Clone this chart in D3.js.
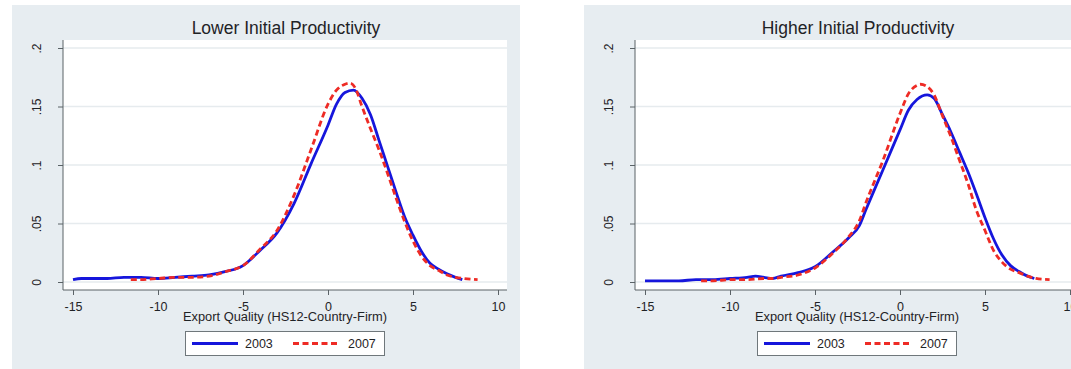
<!DOCTYPE html>
<html>
<head>
<meta charset="utf-8">
<script src="https://cdn.jsdelivr.net/npm/d3@7"></script>
<style>
  html, body { margin: 0; padding: 0; background: #ffffff; }
  svg { display: block; font-family: "Liberation Sans", Arial, Helvetica, sans-serif; }
</style>
</head>
<body>
<svg id="chart" width="1071" height="369"></svg>
<script>
// ---------- data ----------
const panelTitles = ["Lower Initial Productivity", "Higher Initial Productivity"];
const xAxisTitle = "Export Quality (HS12-Country-Firm)";
const seriesNames = ["2003", "2007"];
const xTicks = [-15, -10, -5, 0, 5, 10];
const xTickLabels = ["-15", "-10", "-5", "0", "5", "10"];
const yTicks = [0, 0.05, 0.1, 0.15, 0.2];
const yTickLabels = ["0", ".05", ".1", ".15", ".2"];

// Lower initial productivity
const lowX2003 = [-15,-14.5,-14,-13,-12,-11,-10,-9,-8,-7,-6,-5,-4,-3,-2,-1,0,0.5,1,1.5,2,2.5,3,3.5,4,4.5,5,5.5,6,6.5,7,7.5,7.9];
const lowY2003 = [0.002,0.003,0.003,0.003,0.004,0.004,0.003,0.004,0.005,0.006,0.009,0.014,0.027,0.042,0.067,0.101,0.134,0.152,0.162,0.164,0.157,0.143,0.121,0.099,0.077,0.056,0.040,0.026,0.016,0.011,0.007,0.004,0.002];
const lowX2007 = [-11.6,-11,-10,-9,-8,-7,-6,-5,-4,-3,-2,-1,0,0.5,1,1.3,1.6,2,2.5,3,3.5,4,4.5,5,5.5,6,6.5,7,7.5,8,8.8];
const lowY2007 = [0.002,0.002,0.003,0.004,0.004,0.005,0.009,0.014,0.028,0.044,0.074,0.113,0.152,0.164,0.169,0.170,0.166,0.150,0.131,0.113,0.093,0.072,0.052,0.035,0.022,0.014,0.010,0.006,0.004,0.003,0.002];

// Higher initial productivity
const highX2003 = [-15,-14,-13,-12,-11,-10,-9,-8.5,-8,-7.5,-7,-6,-5,-4,-3,-2.4,-2,-1,0,0.5,1,1.6,2,2.5,3,3.5,4,4.5,5,5.5,6,6.5,7,7.5,7.9];
const highY2003 = [0.001,0.001,0.001,0.002,0.002,0.003,0.004,0.005,0.004,0.003,0.005,0.008,0.013,0.025,0.038,0.048,0.062,0.096,0.130,0.147,0.156,0.160,0.157,0.143,0.128,0.111,0.094,0.075,0.055,0.037,0.023,0.014,0.009,0.005,0.003];
const highX2007 = [-11.7,-11,-10,-9,-8,-7.5,-7,-6,-5,-4,-3,-2.4,-2,-1,0,0.5,1,1.2,1.6,2,2.5,3,3.5,4,4.5,5,5.5,6,6.5,7,7.5,8,8.8];
const highY2007 = [0.001,0.001,0.002,0.002,0.003,0.003,0.004,0.006,0.012,0.024,0.039,0.052,0.068,0.104,0.144,0.161,0.168,0.169,0.167,0.160,0.142,0.124,0.104,0.084,0.061,0.044,0.027,0.017,0.011,0.008,0.005,0.003,0.002];

// ---------- style ----------
const BG = "#e7edf1";
const BLUE = "#1616dc";
const RED = "#ee2b25";
const AXIS = "#5a6266";
const TEXT = "#1f2326";
const GRID = "#e6ebee";

const svg = d3.select("#chart");

function zip(xs, ys) { return xs.map((x, i) => ({ x, y: ys[i] })); }

function drawPanel(ox, title, d2003, d2007) {
  const g = svg.append("g").attr("transform", `translate(${ox},0)`);

  // outer background
  g.append("rect").attr("x", 12).attr("y", 5).attr("width", 508).attr("height", 364).attr("fill", BG);

  // plot region
  const pl = 63, pr = 507, pt = 40, pb = 290;
  g.append("rect").attr("x", pl).attr("y", pt).attr("width", pr - pl).attr("height", pb - pt).attr("fill", "#ffffff");

  const x = d3.scaleLinear().domain([-15, 10]).range([73, 498]);
  const y = d3.scaleLinear().domain([0, 0.2]).range([282, 48]);

  // gridlines
  g.append("g").selectAll("line").data(yTicks).join("line")
    .attr("x1", pl).attr("x2", pr)
    .attr("y1", d => y(d)).attr("y2", d => y(d))
    .attr("stroke", GRID).attr("stroke-width", 1.4);

  // y axis
  const yAxis = d3.axisLeft(y).tickValues(yTicks).tickSize(5).tickSizeOuter(0)
    .tickFormat((d, i) => yTickLabels[i]);
  const ya = g.append("g").attr("transform", `translate(${pl},0)`).call(yAxis);
  ya.select(".domain").remove();
  ya.selectAll(".tick line").attr("stroke", AXIS);
  ya.selectAll(".tick text")
    .attr("x", null).attr("dy", null)
    .attr("transform", "translate(-22,0) rotate(-90)")
    .attr("text-anchor", "middle")
    .attr("font-size", 12).attr("fill", TEXT);
  g.append("line").attr("x1", pl).attr("x2", pl).attr("y1", pt).attr("y2", pb)
    .attr("stroke", AXIS).attr("stroke-width", 1);

  // x axis
  const xAxis = d3.axisBottom(x).tickValues(xTicks).tickSize(5).tickSizeOuter(0).tickPadding(7)
    .tickFormat((d, i) => xTickLabels[i]);
  const xa = g.append("g").attr("transform", `translate(0,${pb})`).call(xAxis);
  xa.select(".domain").remove();
  xa.selectAll(".tick line").attr("stroke", AXIS);
  xa.selectAll(".tick text").attr("font-size", 12.5).attr("fill", TEXT);
  g.append("line").attr("x1", pl).attr("x2", pr).attr("y1", pb).attr("y2", pb)
    .attr("stroke", AXIS).attr("stroke-width", 1);

  // curves
  const line = d3.line().x(d => x(d.x)).y(d => y(d.y)).curve(d3.curveMonotoneX);
  g.append("path").datum(d2003).attr("d", line)
    .attr("fill", "none").attr("stroke", BLUE).attr("stroke-width", 2.8)
    .attr("stroke-linejoin", "round");
  g.append("path").datum(d2007).attr("d", line)
    .attr("fill", "none").attr("stroke", RED).attr("stroke-width", 2.8)
    .attr("stroke-dasharray", "6,3.5");

  // title
  g.append("text").attr("x", 286).attr("y", 34).attr("text-anchor", "middle")
    .attr("font-size", 17.5).attr("fill", TEXT).text(title);

  // x axis title
  g.append("text").attr("x", 285).attr("y", 321).attr("text-anchor", "middle")
    .attr("font-size", 12.5).attr("textLength", 204).attr("lengthAdjust", "spacingAndGlyphs")
    .attr("fill", TEXT).text(xAxisTitle);

  // legend
  const lg = g.append("g");
  lg.append("rect").attr("x", 185.5).attr("y", 331.5).attr("width", 199).attr("height", 24)
    .attr("fill", "#ffffff").attr("stroke", "#6f777b").attr("stroke-width", 1);
  lg.append("line").attr("x1", 192).attr("x2", 238).attr("y1", 343.5).attr("y2", 343.5)
    .attr("stroke", BLUE).attr("stroke-width", 2.8);
  lg.append("text").attr("x", 245).attr("y", 348).attr("font-size", 12.5).attr("fill", TEXT).text(seriesNames[0]);
  lg.append("line").attr("x1", 293).attr("x2", 340).attr("y1", 343.5).attr("y2", 343.5)
    .attr("stroke", RED).attr("stroke-width", 2.8).attr("stroke-dasharray", "6,3.5");
  lg.append("text").attr("x", 348).attr("y", 348).attr("font-size", 12.5).attr("fill", TEXT).text(seriesNames[1]);
}

drawPanel(0, panelTitles[0], zip(lowX2003, lowY2003), zip(lowX2007, lowY2007));
drawPanel(572, panelTitles[1], zip(highX2003, highY2003), zip(highX2007, highY2007));
</script>
</body>
</html>
